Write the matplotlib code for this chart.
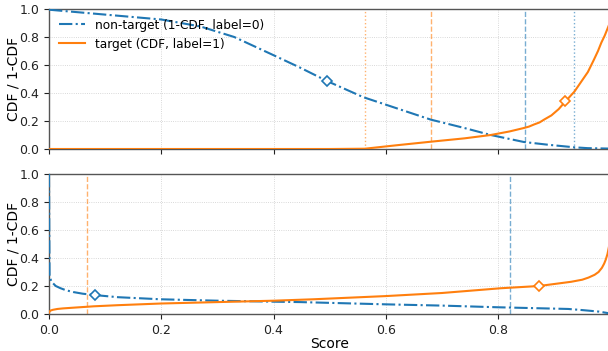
import matplotlib
matplotlib.use("Agg")
import matplotlib.pyplot as plt

BLUE = "#1f77b4"
ORANGE = "#ff7f0e"

# ---- data ----
top_nt_x = [0, 0.1, 0.2, 0.27, 0.33, 0.4, 0.448, 0.495, 0.56, 0.62, 0.68, 0.74, 0.787, 0.846, 0.89, 0.936, 0.96, 0.998]
top_nt_y = [0.995, 0.96, 0.925, 0.875, 0.80, 0.67, 0.58, 0.486, 0.37, 0.29, 0.21, 0.15, 0.10, 0.05, 0.03, 0.012, 0.006, 0.003]
top_t_x = [0, 0.5, 0.5625, 0.62, 0.68, 0.74, 0.787, 0.82, 0.846, 0.855, 0.864, 0.874, 0.882, 0.895, 0.908, 0.92,
           0.936, 0.948, 0.96, 0.971, 0.978, 0.984, 0.99, 0.995, 0.998]
top_t_y = [0, 0, 0.002, 0.027, 0.052, 0.076, 0.10, 0.125, 0.15, 0.16, 0.175, 0.19, 0.21, 0.24, 0.285, 0.34,
           0.41, 0.48, 0.55, 0.64, 0.70, 0.76, 0.81, 0.86, 0.89]

bot_nt_x = [0, 0.0005, 0.001, 0.004, 0.007, 0.012, 0.02, 0.03, 0.043, 0.06, 0.082, 0.123, 0.2, 0.3, 0.4, 0.448, 0.6,
            0.7, 0.8, 0.925, 0.95, 0.98, 0.998]
bot_nt_y = [1.0, 0.6, 0.27, 0.235, 0.22, 0.20, 0.185, 0.17, 0.157, 0.145, 0.135, 0.12, 0.105, 0.095, 0.088, 0.085,
            0.069, 0.06, 0.048, 0.036, 0.028, 0.017, 0.005]
bot_t_x = [0, 0.001, 0.003, 0.007, 0.015, 0.025, 0.043, 0.08, 0.123, 0.2, 0.3, 0.4, 0.47, 0.6, 0.7, 0.805, 0.873,
           0.93, 0.95, 0.961, 0.972, 0.979, 0.985, 0.989, 0.992, 0.995, 0.998]
bot_t_y = [0.01, 0.018, 0.025, 0.03, 0.036, 0.04, 0.045, 0.055, 0.063, 0.075, 0.085, 0.095, 0.105, 0.128, 0.15,
           0.184, 0.20, 0.23, 0.245, 0.26, 0.28, 0.30, 0.33, 0.36, 0.39, 0.43, 0.49]

top_markers_nt = (0.495, 0.486)
top_markers_t = (0.92, 0.34)
bot_markers_nt = (0.082, 0.135)
bot_markers_t = (0.873, 0.20)

top_vlines = [(0.5625, ORANGE, ":"), (0.680, ORANGE, "--"), (0.848, BLUE, "--"), (0.936, BLUE, ":")]
bot_vlines = [(0.067, ORANGE, "--"), (0.821, BLUE, "--")]

yticks = [0.0, 0.2, 0.4, 0.6, 0.8, 1.0]
xticks = [0.0, 0.2, 0.4, 0.6, 0.8]

W, H = 608, 351
fig = plt.figure(figsize=(W / 100, H / 100), dpi=100)
ax1 = fig.add_axes([49 / W, 1 - 149 / H, 1 - 49 / W + 0.002, 140 / H])
ax2 = fig.add_axes([49 / W, 1 - 314 / H, 1 - 49 / W + 0.002, 140 / H], sharex=ax1)

def style(ax):
    ax.set_xlim(0, 0.998)
    ax.set_ylim(0, 1.0)
    ax.set_yticks(yticks)
    ax.set_xticks(xticks)
    ax.grid(True, linestyle=":", linewidth=0.6, color="#cccccc")
    ax.set_axisbelow(True)
    for s in ax.spines.values():
        s.set_color("#555555")
        s.set_linewidth(1.0)
    ax.tick_params(labelsize=9, colors="#222222", length=3.5, width=0.8)
    ax.set_ylabel("CDF / 1-CDF", fontsize=10)
    ax.yaxis.set_label_coords(-0.05, 0.5)

def draw(ax, ntx, nty, tx, ty, mnt, mt, vlines, legend=False):
    for xv, c, ls in vlines:
        ax.axvline(xv, color=c, linestyle=ls, linewidth=1.0, alpha=0.6, zorder=1)
    ax.plot(ntx, nty, color=BLUE, linestyle="-.", linewidth=1.5, label="non-target (1-CDF, label=0)", zorder=3)
    ax.plot(tx, ty, color=ORANGE, linestyle="-", linewidth=1.5, label="target (CDF, label=1)", zorder=3)
    ax.plot([mnt[0]], [mnt[1]], marker="D", markersize=5.5, markerfacecolor="white",
            markeredgecolor=BLUE, markeredgewidth=1.2, linestyle="none", zorder=4)
    ax.plot([mt[0]], [mt[1]], marker="D", markersize=5.5, markerfacecolor="white",
            markeredgecolor=ORANGE, markeredgewidth=1.2, linestyle="none", zorder=4)
    if legend:
        ax.legend(loc="upper left", frameon=False, fontsize=8.7, borderaxespad=0.4,
                  handlelength=2.2, labelspacing=0.5)

style(ax1)
style(ax2)
draw(ax1, top_nt_x, top_nt_y, top_t_x, top_t_y, top_markers_nt, top_markers_t, top_vlines, legend=True)
draw(ax2, bot_nt_x, bot_nt_y, bot_t_x, bot_t_y, bot_markers_nt, bot_markers_t, bot_vlines)
plt.setp(ax1.get_xticklabels(), visible=False)
ax2.set_xlabel("Score", fontsize=10, labelpad=0)

fig.savefig("out.png", dpi=100)
